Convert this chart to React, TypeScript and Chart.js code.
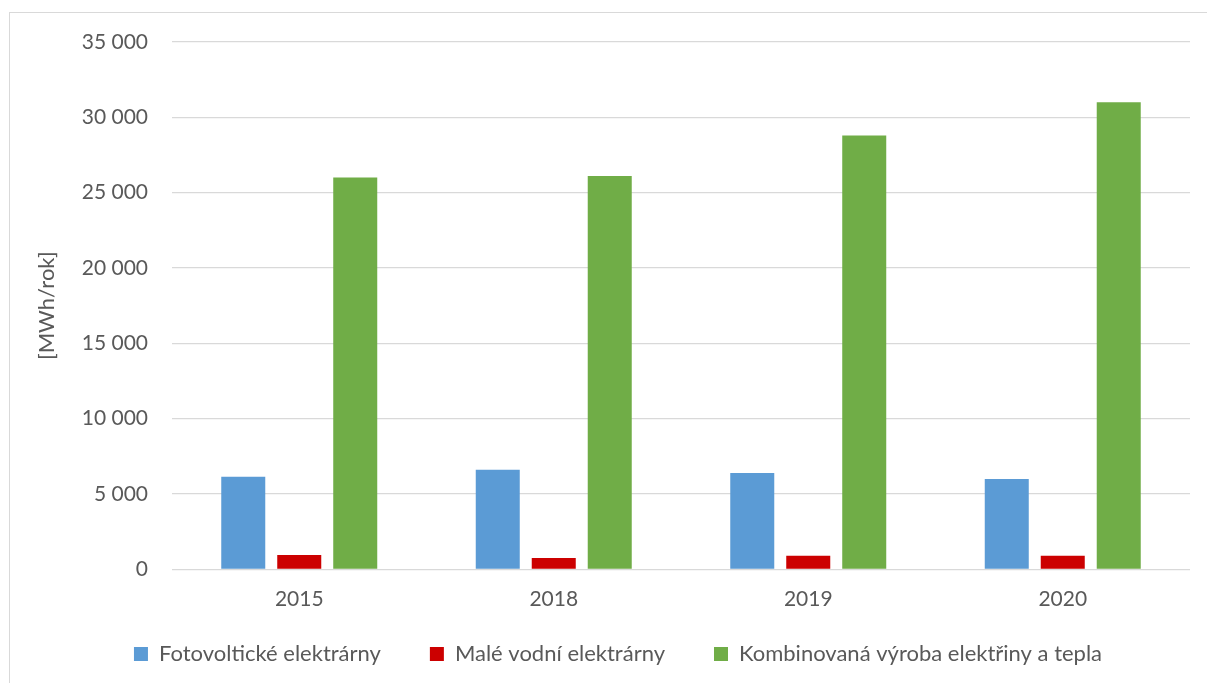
import React, { useEffect, useRef } from "react";
import { Chart, registerables } from "chart.js";

Chart.register(...registerables);

const years = ["2015", "2018", "2019", "2020"];
const fotovoltaicke = [6150, 6600, 6400, 6000];
const maleVodni = [950, 750, 900, 900];
const kombinovana = [26000, 26100, 28800, 31000];

const seriesNames = [
  "Fotovoltické elektrárny",
  "Malé vodní elektrárny",
  "Kombinovaná výroba elektřiny a tepla",
];
const seriesColors = ["#5B9BD5", "#CC0000", "#70AD47"];

const yMax = 35000;
const yStep = 5000;
const yTitle = "[MWh/rok]";

const FONT = "Lato, 'Open Sans', sans-serif";
const TEXT = "#595959";

const formatThousands = (v: number) =>
  String(v).replace(/\B(?=(\d{3})+(?!\d))/g, " ");

export default function App() {
  const canvasRef = useRef<HTMLCanvasElement | null>(null);

  useEffect(() => {
    if (!canvasRef.current) return;
    const seriesData = [fotovoltaicke, maleVodni, kombinovana];
    const chart = new Chart(canvasRef.current, {
      type: "bar",
      data: {
        labels: years,
        datasets: seriesData.map((d, i) => ({
          label: seriesNames[i],
          data: d,
          backgroundColor: seriesColors[i],
          borderWidth: 0,
          categoryPercentage: 0.66,
          barPercentage: 0.786,
          yAxisID: "y",
        })),
      },
      options: {
        responsive: false,
        animation: false,
        devicePixelRatio: 1,
        layout: { padding: { left: 0, top: 29, right: 0, bottom: 18 } },
        plugins: {
          tooltip: { enabled: false },
          legend: {
            position: "bottom",
            labels: {
              boxWidth: 14,
              boxHeight: 14,
              padding: 49,
              color: TEXT,
              font: { family: FONT, size: 22 },
            },
          },
        },
        scales: {
          x: {
            grid: { display: false },
            border: { display: false },
            ticks: {
              color: TEXT,
              // labels are placed below the axis line without taking layout space
              mirror: true,
              padding: -43,
              maxRotation: 0,
              font: { family: FONT, size: 21 },
            },
            afterFit: (scale: any) => {
              scale.height = 24.7;
            },
          },
          y: {
            position: "left",
            min: 0,
            max: yMax,
            border: { display: false },
            grid: { color: "#D9D9D9", lineWidth: 1.3, drawTicks: false },
            ticks: {
              stepSize: yStep,
              color: TEXT,
              padding: 24,
              font: { family: FONT, size: 21 },
              callback: (v: any) => formatThousands(Number(v)),
            },
            title: {
              display: true,
              text: yTitle,
              color: TEXT,
              padding: { top: 24, bottom: 0 },
              font: { family: FONT, size: 22 },
            },
            afterFit: (scale: any) => {
              scale.width = 162;
              scale.paddingTop = 12;
              scale.paddingBottom = 12;
            },
          },
          // empty right-hand margin inside the frame
          yRight: {
            type: "linear",
            position: "right",
            display: true,
            grid: { display: false },
            border: { display: false },
            ticks: { display: false },
            afterFit: (scale: any) => {
              scale.width = 36;
            },
          },
        },
      },
    });
    return () => chart.destroy();
  }, []);

  return (
    <div
      style={{
        position: "fixed",
        inset: 0,
        overflow: "hidden",
        background: "#ffffff",
      }}
    >
      <div
        style={{
          position: "absolute",
          left: 9,
          top: 12,
          width: 1216,
          height: 700,
          border: "1px solid #D9D9D9",
          background: "#ffffff",
        }}
      >
        <canvas
          ref={canvasRef}
          width={1216}
          height={680}
          style={{ display: "block", width: 1216, height: 680 }}
        />
      </div>
    </div>
  );
}
